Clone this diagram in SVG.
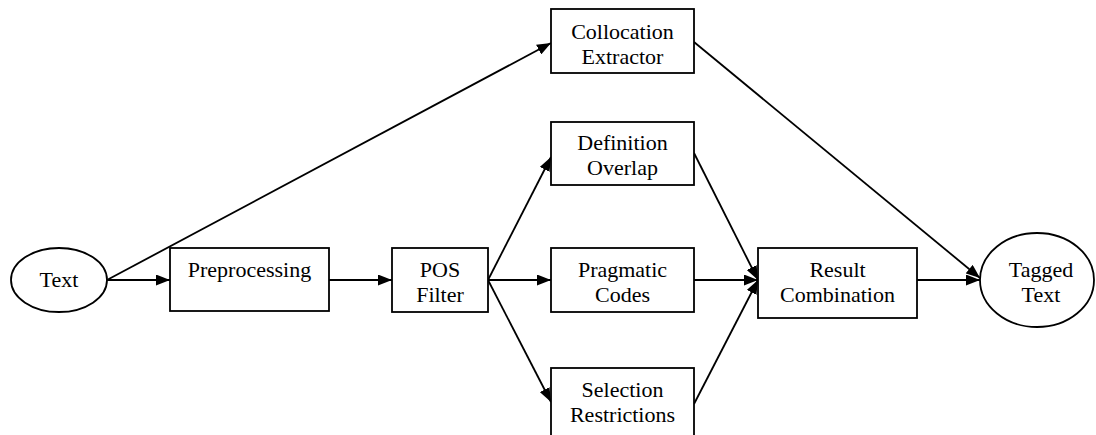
<svg xmlns="http://www.w3.org/2000/svg" width="1096" height="435" viewBox="0 0 1096 435">
<style>
.n{fill:#fff;stroke:#000;stroke-width:1.8}
.t{font-family:"Liberation Serif","Times New Roman",serif;font-size:22px;fill:#000;text-anchor:middle}
.c{stroke:#000;stroke-width:1.8;fill:none;marker-end:url(#ah)}
</style>
<defs>
<marker id="ah" viewBox="0 0 14 11" refX="14" refY="5.5" markerWidth="14" markerHeight="11" markerUnits="userSpaceOnUse" orient="auto">
<path d="M0,0 L14,5.5 L0,11 z" fill="#000"/>
</marker>
</defs>
<rect width="1096" height="435" fill="#fff"/>
<g id="connectors">
<line class="c" x1="107" y1="280" x2="551" y2="43"/>
<line class="c" x1="107" y1="280" x2="170" y2="280"/>
<line class="c" x1="329" y1="280" x2="392" y2="280"/>
<line class="c" x1="488" y1="280" x2="551" y2="157"/>
<line class="c" x1="488" y1="280" x2="551" y2="280"/>
<line class="c" x1="488" y1="280" x2="551" y2="402"/>
<line class="c" x1="694" y1="153" x2="758" y2="280"/>
<line class="c" x1="694" y1="280" x2="758" y2="280"/>
<line class="c" x1="694" y1="404" x2="758" y2="280"/>
<line class="c" x1="694" y1="42" x2="980" y2="278"/>
<line class="c" x1="917" y1="280" x2="980" y2="280"/>
</g>
<g id="text-in">
<ellipse class="n" cx="59" cy="280" rx="48" ry="32"/>
<text class="t" x="59" y="287">Text</text>
</g>
<g id="preprocessing">
<rect class="n" x="170" y="248" width="159" height="63"/>
<text class="t" x="249.5" y="277">Preprocessing</text>
</g>
<g id="pos-filter">
<rect class="n" x="392" y="248" width="96" height="64"/>
<text class="t" x="440" y="277">POS</text>
<text class="t" x="440" y="302">Filter</text>
</g>
<g id="collocation">
<rect class="n" x="551" y="9" width="143" height="64"/>
<text class="t" x="622.5" y="39">Collocation</text>
<text class="t" x="622.5" y="64">Extractor</text>
</g>
<g id="definition">
<rect class="n" x="551" y="122" width="143" height="63"/>
<text class="t" x="622.5" y="150">Definition</text>
<text class="t" x="622.5" y="175">Overlap</text>
</g>
<g id="pragmatic">
<rect class="n" x="551" y="248" width="143" height="64"/>
<text class="t" x="622.5" y="277">Pragmatic</text>
<text class="t" x="622.5" y="302">Codes</text>
</g>
<g id="selection">
<rect class="n" x="551" y="368" width="143" height="80"/>
<text class="t" x="622.5" y="397">Selection</text>
<text class="t" x="622.5" y="422">Restrictions</text>
</g>
<g id="result">
<rect class="n" x="758" y="248" width="159" height="70"/>
<text class="t" x="837.5" y="277">Result</text>
<text class="t" x="837.5" y="302">Combination</text>
</g>
<g id="tagged">
<ellipse class="n" cx="1037" cy="280" rx="57" ry="47"/>
<text class="t" x="1041" y="277">Tagged</text>
<text class="t" x="1041" y="302">Text</text>
</g>
</svg>
